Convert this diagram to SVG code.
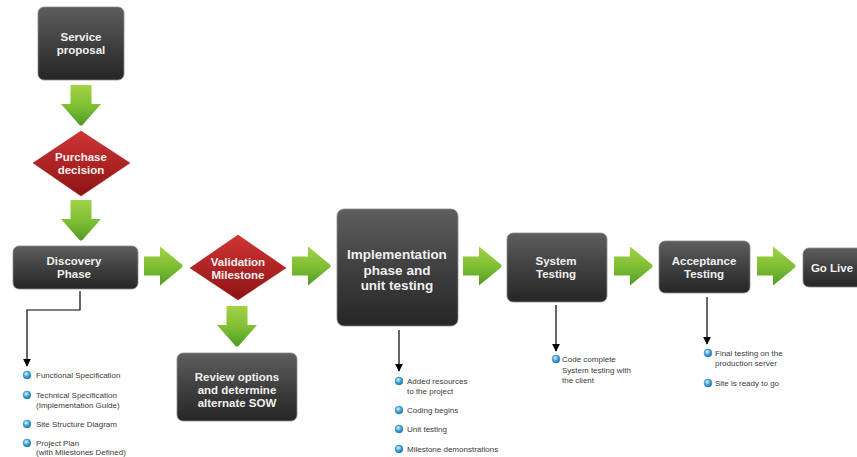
<svg xmlns="http://www.w3.org/2000/svg" width="857" height="457" viewBox="0 0 857 457">
<defs>
<linearGradient id="gBox" x1="0" y1="0" x2="0" y2="1">
<stop offset="0" stop-color="#5e5e5e"/><stop offset="0.5" stop-color="#404040"/><stop offset="1" stop-color="#262626"/>
</linearGradient>
<linearGradient id="gRed" x1="0" y1="0" x2="0" y2="1">
<stop offset="0" stop-color="#d23434"/><stop offset="1" stop-color="#8c1414"/>
</linearGradient>
<linearGradient id="gGreen" x1="0" y1="0" x2="0" y2="1">
<stop offset="0" stop-color="#a3d246"/><stop offset="0.55" stop-color="#7dbd33"/><stop offset="1" stop-color="#4f9a25"/>
</linearGradient>
<radialGradient id="gBul" cx="0.4" cy="0.35" r="0.65">
<stop offset="0" stop-color="#e8f6ff"/><stop offset="0.45" stop-color="#5ab4e6"/><stop offset="1" stop-color="#1b6fa8"/>
</radialGradient>
<path id="ra" d="M0,-9.5 H16 V-19.5 L38,-1.5 Q39,0 38,1.5 L16,19.5 V9.5 H0 Z"/>
<path id="da" d="M-10.5,0 H10.5 V19 H20 L1.5,40 Q0,41 -1.5,40 L-20,19 H-10.5 Z"/>
<marker id="ah" viewBox="0 0 10 10" refX="9" refY="5" markerWidth="8" markerHeight="8" markerUnits="userSpaceOnUse" orient="auto">
<path d="M0,0 L10,5 L0,10 Z" fill="#000"/>
</marker>
<circle id="bul" r="3.9" fill="url(#gBul)" stroke="#2a7fb8" stroke-width="0.5"/>
</defs>
<style>
.box{fill:url(#gBox);stroke:#8a8a8a;stroke-width:0.8}
.dia{fill:url(#gRed);stroke:#a02020;stroke-width:0.5}
.arr{fill:url(#gGreen)}
.t{font-family:"Liberation Sans",Arial,sans-serif;font-weight:bold;fill:#f0f0f0;text-anchor:middle;font-size:11.5px}
.tl{font-size:13.5px}
.s{font-family:"Liberation Sans",Arial,sans-serif;fill:#3a3a3a;font-size:8px}
.con{fill:none;stroke:#000;stroke-width:1.2}
</style>
<rect width="857" height="457" fill="#fff"/>

<g id="service-proposal">
<rect class="box" x="38" y="7" width="86" height="73" rx="6"/>
<text class="t" x="81" y="41">Service</text>
<text class="t" x="81" y="54">proposal</text>
</g>
<g id="purchase-decision">
<path class="dia" d="M81,131 L130,163 L81,196 L33,163 Z"/>
<text class="t" x="81" y="161">Purchase</text>
<text class="t" x="81" y="174">decision</text>
</g>
<g id="discovery-phase">
<rect class="box" x="13" y="246" width="125" height="43" rx="6"/>
<text class="t" x="74" y="265">Discovery</text>
<text class="t" x="74" y="278">Phase</text>
</g>
<g id="validation-milestone">
<path class="dia" d="M238,235 L286,268 L238,300 L190,268 Z"/>
<text class="t" x="238" y="266">Validation</text>
<text class="t" x="238" y="279">Milestone</text>
</g>
<g id="review-options">
<rect class="box" x="177" y="353" width="120" height="68" rx="6"/>
<text class="t" x="237" y="381">Review options</text>
<text class="t" x="237" y="394">and determine</text>
<text class="t" x="237" y="407">alternate SOW</text>
</g>
<g id="implementation">
<rect class="box" x="337" y="209" width="121" height="117" rx="7"/>
<text class="t tl" x="397" y="259">Implementation</text>
<text class="t tl" x="397" y="275">phase and</text>
<text class="t tl" x="397" y="290">unit testing</text>
</g>
<g id="system-testing">
<rect class="box" x="507" y="233" width="100" height="69" rx="6"/>
<text class="t" x="556" y="265">System</text>
<text class="t" x="556" y="278">Testing</text>
</g>
<g id="acceptance-testing">
<rect class="box" x="659" y="241" width="91" height="52" rx="6"/>
<text class="t" x="704" y="265">Acceptance</text>
<text class="t" x="704" y="278">Testing</text>
</g>
<g id="go-live">
<rect class="box" x="803" y="248" width="64" height="39" rx="6"/>
<text class="t" x="832" y="272">Go Live</text>
</g>

<g id="connectors">
<use href="#da" class="arr" x="81" y="85"/>
<use href="#da" class="arr" x="81" y="200"/>
<use href="#da" class="arr" x="237" y="306"/>
<use href="#ra" class="arr" x="144" y="266"/>
<use href="#ra" class="arr" x="292" y="266"/>
<use href="#ra" class="arr" x="463" y="266"/>
<use href="#ra" class="arr" x="614" y="266"/>
<use href="#ra" class="arr" x="757" y="266"/>
<path class="con" d="M80,291 V310 H27 V366" marker-end="url(#ah)"/>
<path class="con" d="M399,330 V371" marker-end="url(#ah)"/>
<path class="con" d="M556,305 V351" marker-end="url(#ah)"/>
<path class="con" d="M707,297 V344" marker-end="url(#ah)"/>
</g>

<g id="discovery-list">
<use href="#bul" x="27" y="375"/>
<text class="s" x="36" y="378">Functional Specification</text>
<use href="#bul" x="27" y="395"/>
<text class="s" x="36" y="398">Technical Specification</text>
<text class="s" x="36" y="408">(Implementation Guide)</text>
<use href="#bul" x="27" y="424"/>
<text class="s" x="36" y="427">Site Structure Diagram</text>
<use href="#bul" x="27" y="443"/>
<text class="s" x="36" y="446">Project Plan</text>
<text class="s" x="36" y="455">(with Milestones Defined)</text>
</g>
<g id="implementation-list">
<use href="#bul" x="399" y="381"/>
<text class="s" x="407" y="384">Added resources</text>
<text class="s" x="407" y="394">to the project</text>
<use href="#bul" x="399" y="410"/>
<text class="s" x="407" y="413">Coding begins</text>
<use href="#bul" x="399" y="429"/>
<text class="s" x="407" y="432">Unit testing</text>
<use href="#bul" x="399" y="449"/>
<text class="s" x="407" y="452">Milestone demonstrations</text>
</g>
<g id="system-list">
<use href="#bul" x="556" y="359"/>
<text class="s" x="562" y="362">Code complete</text>
<text class="s" x="562" y="373">System testing with</text>
<text class="s" x="562" y="383">the client</text>
</g>
<g id="acceptance-list">
<use href="#bul" x="708" y="353"/>
<text class="s" x="715" y="356">Final testing on the</text>
<text class="s" x="715" y="366">production server</text>
<use href="#bul" x="708" y="383"/>
<text class="s" x="715" y="386">Site is ready to go</text>
</g>
</svg>
